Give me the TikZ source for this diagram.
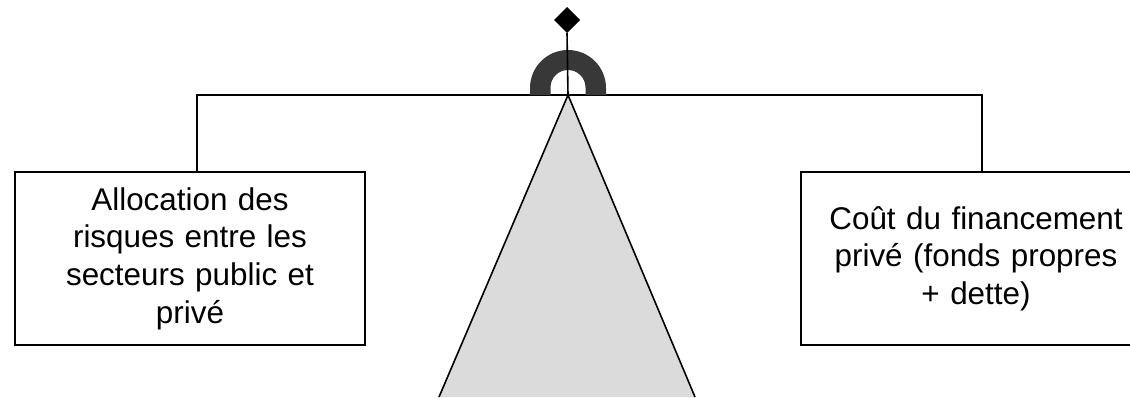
\documentclass[tikz,border=0pt]{standalone}
\usepackage{fontspec}
\setmainfont{Liberation Sans}
\usepackage{tikz}

\tikzset{
  boite/.style={draw, align=center, inner sep=0pt,
    minimum width=175pt, minimum height=86.5pt, text width=170pt,
    font=\fontsize{15.7}{18.8}\selectfont},
}

\begin{document}
\begin{tikzpicture}[x=0.5pt, y=-0.5pt, line width=0.8pt]
\useasboundingbox (0,0) rectangle (1130,397);
\clip (0,0) rectangle (1130,397);

% Pied de la balance
\fill[black!14] (568,95) -- (695,397) -- (439,397) -- cycle;
\draw (439,397) -- (568,95) -- (695,397);

% Plateaux
\node[boite] (risques) at (190,258.5)
  {Allocation des\\ risques entre les\\ secteurs public et\\ privé};
\node[boite] (cout) at (976,258.5)
  {Coût du financement\\ privé (fonds propres\\ + dette)};

\coordinate (pivot) at (568,95);
\coordinate (gauche) at (197,172);
\coordinate (droite) at (982,172);

% Fleau
\draw (gauche) |- (pivot) -| (droite);

% Anneau
\fill[black!78] (530,95) -- (530,88) arc[start angle=180, end angle=360, radius=38]
  -- (606,95) -- (585.5,95) -- (585.5,87.5) arc[start angle=0, end angle=-180, radius=17.5]
  -- (550.5,95) -- cycle;

% Aiguille
\coordinate (poids) at (567,33);
\fill (poids) -- (580,20) -- (567,7) -- (554,20) -- cycle;
\draw (poids) -- (pivot);

\end{tikzpicture}
\end{document}
